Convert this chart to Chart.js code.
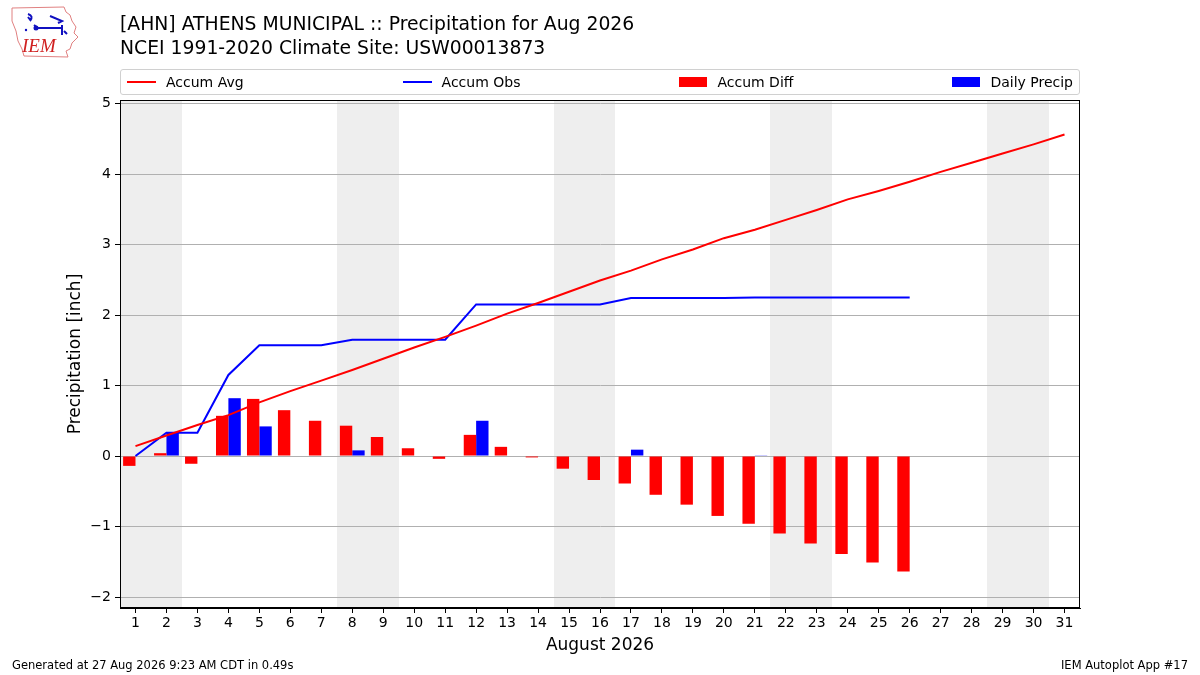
<!DOCTYPE html>
<html>
<head>
<meta charset="utf-8">
<script src="https://cdn.jsdelivr.net/npm/chart.js@4.4.1/dist/chart.umd.min.js"></script>
<style>
    html, body { margin: 0; padding: 0; background: #fff; }
    body { width: 1200px; height: 675px; position: relative; overflow: hidden; font-family: "DejaVu Sans", sans-serif; color: #000; }
    #wrap { position: absolute; left: 0; top: 0; width: 1200px; height: 675px; }
    #title { position: absolute; left: 120px; top: 12px; font-size: 18.8px; line-height: 24px; }
    #legend { position: absolute; left: 120px; top: 69px; width: 960px; height: 26px; border: 1px solid #d0d0d0; border-radius: 3px;
              display: flex; justify-content: space-between; align-items: center; padding: 0 6px; box-sizing: border-box; font-size: 14px; }
    .item { display: flex; align-items: center; }
    .line { width: 29px; height: 2px; margin-right: 10px; }
    .patch { width: 28px; height: 10px; margin-right: 10px; }
    .foot { position: absolute; top: 658px; font-size: 11.5px; }
    #logo { position: absolute; left: 6px; top: 3px; }
</style>
</head>
<body>
<div id="wrap"><canvas id="chart" width="1200" height="675"></canvas></div>
<svg id="logo" width="76" height="58" viewBox="0 0 76 58">
    <path d="M6 5 L58 4 L60 9 L64 12 L66 18 L70 24 L68 30 L72 34 L66 40 L64 46 L60 48 L62 54 L18 53 L16 46 L12 38 L10 28 L6 18 Z" fill="none" stroke="#e08080" stroke-width="1"/>
    <path d="M22 11 q6 2 2 7 M22 14 l3 4 M28 22 l4 3 M30 25 h26 M56 22 v10 M44 13 l12 5 l-4 2 M58 28 l3 3" fill="none" stroke="#1010c0" stroke-width="2"/>
    <circle cx="30" cy="25" r="2.5" fill="#1010c0"/>
    <circle cx="20" cy="27" r="1.2" fill="#1010c0"/>
    <text x="16" y="49" font-family="Liberation Serif, serif" font-style="italic" font-size="19" fill="#d02020">IEM</text>
</svg>
<div id="title">[AHN] ATHENS MUNICIPAL :: Precipitation for Aug 2026<br>NCEI 1991-2020 Climate Site: USW00013873</div>
<div id="legend">
    <div class="item"><div class="line" style="background:#ff0000"></div>Accum Avg</div>
    <div class="item"><div class="line" style="background:#0000ff"></div>Accum Obs</div>
    <div class="item"><div class="patch" style="background:#ff0000"></div>Accum Diff</div>
    <div class="item"><div class="patch" style="background:#0000ff"></div>Daily Precip</div>
</div>
<div class="foot" style="left:12px">Generated at 27 Aug 2026 9:23 AM CDT in 0.49s</div>
<div class="foot" style="right:12px">IEM Autoplot App #17</div>
<script>
const days = ['1', '2', '3', '4', '5', '6', '7', '8', '9', '10', '11', '12', '13', '14', '15', '16',
    '17', '18', '19', '20', '21', '22', '23', '24', '25', '26', '27', '28', '29', '30', '31'];
const weekendDays = [1, 2, 8, 9, 15, 16, 22, 23, 29, 30];

const accumAvg = [0.14, 0.29, 0.44, 0.58, 0.76, 0.92, 1.07, 1.22, 1.38, 1.54, 1.69, 1.85, 2.02, 2.17, 2.33, 2.49,
    2.63, 2.79, 2.93, 3.09, 3.21, 3.35, 3.49, 3.64, 3.76, 3.89, 4.03, 4.16, 4.29, 4.42, 4.56];
const accumObs = [0.00, 0.33, 0.33, 1.15, 1.57, 1.57, 1.57, 1.65, 1.65, 1.65, 1.65, 2.15, 2.15, 2.15, 2.15, 2.15,
    2.24, 2.24, 2.24, 2.24, 2.25, 2.25, 2.25, 2.25, 2.25, 2.25, null, null, null, null, null];
const accumDiff = [-0.14, 0.04, -0.11, 0.57, 0.81, 0.65, 0.50, 0.43, 0.27, 0.11, -0.04, 0.30, 0.13, -0.02, -0.18, -0.34,
    -0.39, -0.55, -0.69, -0.85, -0.96, -1.10, -1.24, -1.39, -1.51, -1.64, null, null, null, null, null];
const dailyPrecip = [0, 0.33, 0, 0.82, 0.42, 0, 0, 0.08, 0, 0, 0, 0.50, 0, 0, 0, 0,
    0.09, 0, 0, 0, 0.01, 0, 0, 0, 0, 0, null, null, null, null, null];
const yTicks = [-2, -1, 0, 1, 2, 3, 4, 5];

// grey bands behind the weekends, drawn before the grid
const weekendShade = {
    id: 'weekendShade',
    beforeDraw(chart) {
        const { ctx, chartArea, scales: { x } } = chart;
        const half = (x.getPixelForValue(1) - x.getPixelForValue(0)) / 2;
        ctx.save();
        ctx.fillStyle = '#eeeeee';
        weekendDays.forEach(d => {
            const cx = x.getPixelForValue(d - 1);
            const x0 = Math.round(cx - half), x1 = Math.round(cx + half);
            ctx.fillRect(x0, chartArea.top, x1 - x0, chartArea.bottom - chartArea.top);
        });
        ctx.restore();
    }
};

const frame = {
    id: 'frame',
    afterDraw(chart) {
        const { ctx, chartArea } = chart;
        ctx.save();
        ctx.strokeStyle = '#000';
        ctx.lineWidth = 1;
        ctx.strokeRect(chartArea.left + 0.5, chartArea.top + 0.5, chartArea.right - chartArea.left - 1, chartArea.bottom - chartArea.top - 1);
        ctx.restore();
    }
};

Chart.defaults.font.family = '"DejaVu Sans", sans-serif';
Chart.defaults.color = '#000';

new Chart(document.getElementById('chart'), {
    type: 'bar',
    data: {
        labels: days,
        datasets: [
            { type: 'line', label: 'Accum Avg', data: accumAvg, borderColor: '#ff0000', borderWidth: 2, pointRadius: 0, order: 0 },
            { type: 'line', label: 'Accum Obs', data: accumObs, borderColor: '#0000ff', borderWidth: 2, pointRadius: 0, order: 0 },
            { label: 'Accum Diff', data: accumDiff, backgroundColor: '#ff0000', order: 1,
              categoryPercentage: 0.8, barPercentage: 1.0 },
            { label: 'Daily Precip', data: dailyPrecip, backgroundColor: '#0000ff', order: 1,
              categoryPercentage: 0.8, barPercentage: 1.0 }
        ]
    },
    options: {
        responsive: false,
        animation: false,
        layout: { padding: { left: 61, top: 100, right: 120, bottom: 15 } },
        plugins: { legend: { display: false }, tooltip: { enabled: false } },
        scales: {
            x: {
                offset: true,
                grid: { offset: false, drawOnChartArea: false, drawTicks: true, tickLength: 5, tickColor: '#000' },
                border: { color: '#000' },
                ticks: { font: { size: 14 }, padding: 2, maxRotation: 0, autoSkip: false },
                title: { display: true, text: 'August 2026', font: { size: 17 } },
                afterFit: s => { s.height = 52; }
            },
            y: {
                min: -2.156,
                max: 5.05,
                grid: { color: '#b0b0b0', tickColor: '#000', tickLength: 5 },
                border: { color: '#000' },
                ticks: {
                    font: { size: 14 },
                    padding: 4,
                    includeBounds: false,
                    callback: v => v < 0 ? '\u2212' + Math.abs(v) : String(v)
                },
                afterBuildTicks: s => { s.ticks = yTicks.map(v => ({ value: v })); },
                title: { display: true, text: 'Precipitation [inch]', font: { size: 17 } },
                afterFit: s => { s.width = 59; }
            }
        }
    },
    plugins: [weekendShade, frame]
});
</script>
</body>
</html>
